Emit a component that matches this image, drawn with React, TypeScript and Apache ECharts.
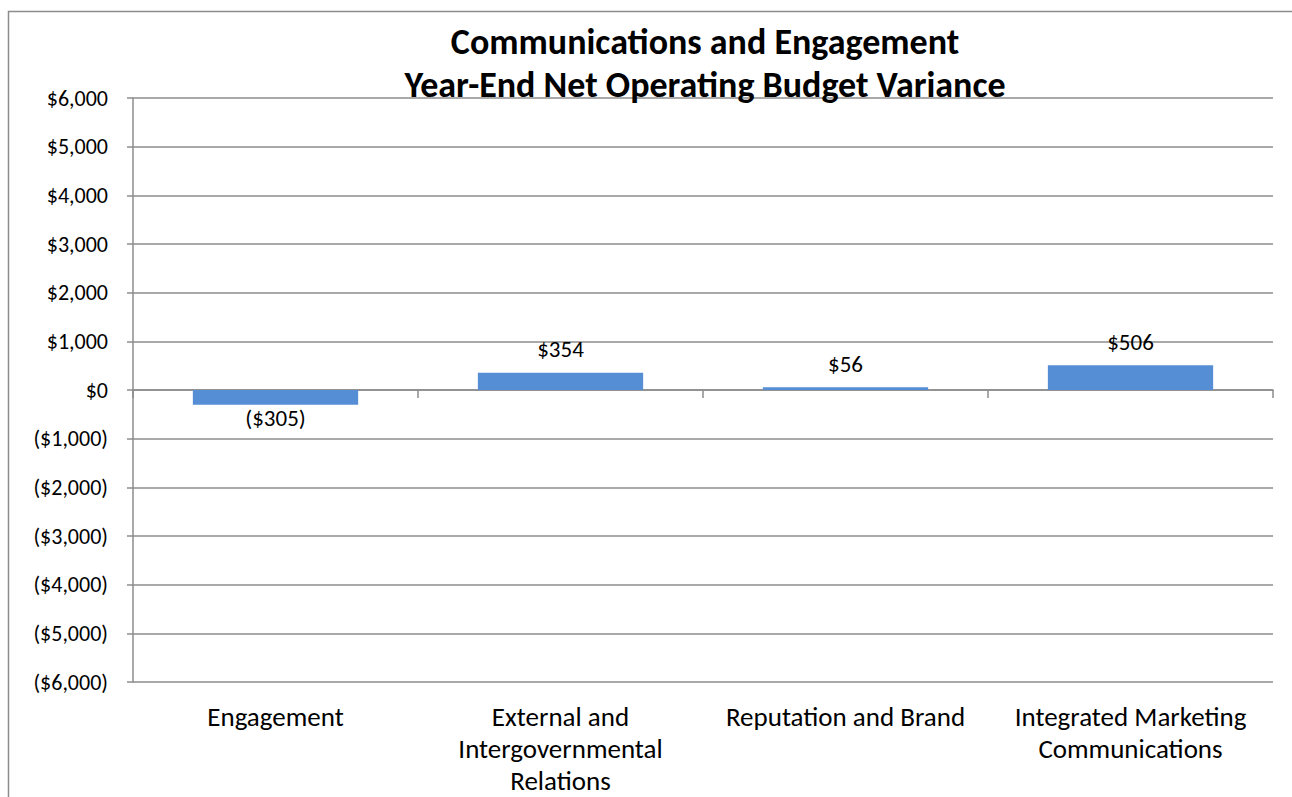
import React, { useEffect, useRef } from "react";
import * as echarts from "echarts";

const categories = [
  "Engagement",
  "External and\nIntergovernmental\nRelations",
  "Reputation and Brand",
  "Integrated Marketing\nCommunications",
];
const variance = [-305, 354, 56, 506];
const titleLines = ["Communications and Engagement", "Year-End Net Operating Budget Variance"];
const yMin = -6000;
const yMax = 6000;
const yStep = 1000;

const FONT = "Carlito, Lato, 'Open Sans', sans-serif";

function money(v: number): string {
  const s = "$" + Math.abs(v).toLocaleString("en-US");
  return v < 0 ? "(" + s + ")" : s;
}

export default function App() {
  const ref = useRef<HTMLDivElement>(null);
  useEffect(() => {
    if (!ref.current) return;
    const chart = echarts.init(ref.current, undefined, { renderer: "svg" });
    chart.setOption({
      animation: false,
      backgroundColor: "#ffffff",
      title: {
        text: titleLines.join("\n"),
        left: 700,
        textAlign: "center",
        top: 15,
        textStyle: {
          fontFamily: FONT,
          fontWeight: "bold",
          fontSize: 36,
          lineHeight: 43,
          color: "#000",
        },
      },
      graphic: [
        {
          type: "rect",
          shape: { x: 8.5, y: 11.5, width: 1500, height: 1000 },
          style: { fill: "none", stroke: "#8c8c8c", lineWidth: 1.5 },
          silent: true,
        },
      ],
      grid: { left: 133, right: 19, top: 98, bottom: 115, outerBoundsMode: "none", containLabel: false },
      xAxis: [
        {
          type: "category",
          data: categories,
          axisLine: { onZero: true, lineStyle: { color: "#8c8c8c", width: 1.5 } },
          axisTick: { show: true, length: 8, lineStyle: { color: "#8c8c8c", width: 1.5 } },
          axisLabel: { show: false },
          splitLine: { show: false },
        },
        {
          type: "category",
          data: categories,
          position: "bottom",
          axisLine: { show: false, onZero: false },
          axisTick: { show: false },
          axisLabel: {
            show: true,
            interval: 0,
            margin: 18,
            fontFamily: FONT,
            fontSize: 27,
            lineHeight: 32,
            color: "#000",
          },
        },
      ],
      yAxis: {
        type: "value",
        min: yMin,
        max: yMax,
        interval: yStep,
        axisLine: { show: true, lineStyle: { color: "#8c8c8c", width: 1.5 } },
        axisTick: { show: true, length: 6, lineStyle: { color: "#8c8c8c", width: 1.5 } },
        splitLine: { show: true, lineStyle: { color: "#8c8c8c", width: 1.5 } },
        axisLabel: {
          margin: 25,
          fontFamily: FONT,
          fontSize: 22,
          color: "#000",
          formatter: (v: number) => money(v),
        },
      },
      series: [
        {
          type: "bar",
          xAxisIndex: 0,
          data: variance.map((v) => ({
            value: v,
            label: {
              position: v < 0 ? "bottom" : "top",
              distance: v < 0 ? 2 : 12,
            },
          })),
          barCategoryGap: "42%",
          itemStyle: { color: "#558ed5" },
          label: {
            show: true,
            fontFamily: FONT,
            fontSize: 23,
            color: "#000",
            formatter: (p: any) => money(p.value),
          },
        },
      ],
    });
    return () => chart.dispose();
  }, []);
  return (
    <div
      ref={ref}
      style={{ position: "fixed", left: 0, top: 0, width: 1292, height: 797 }}
    />
  );
}
